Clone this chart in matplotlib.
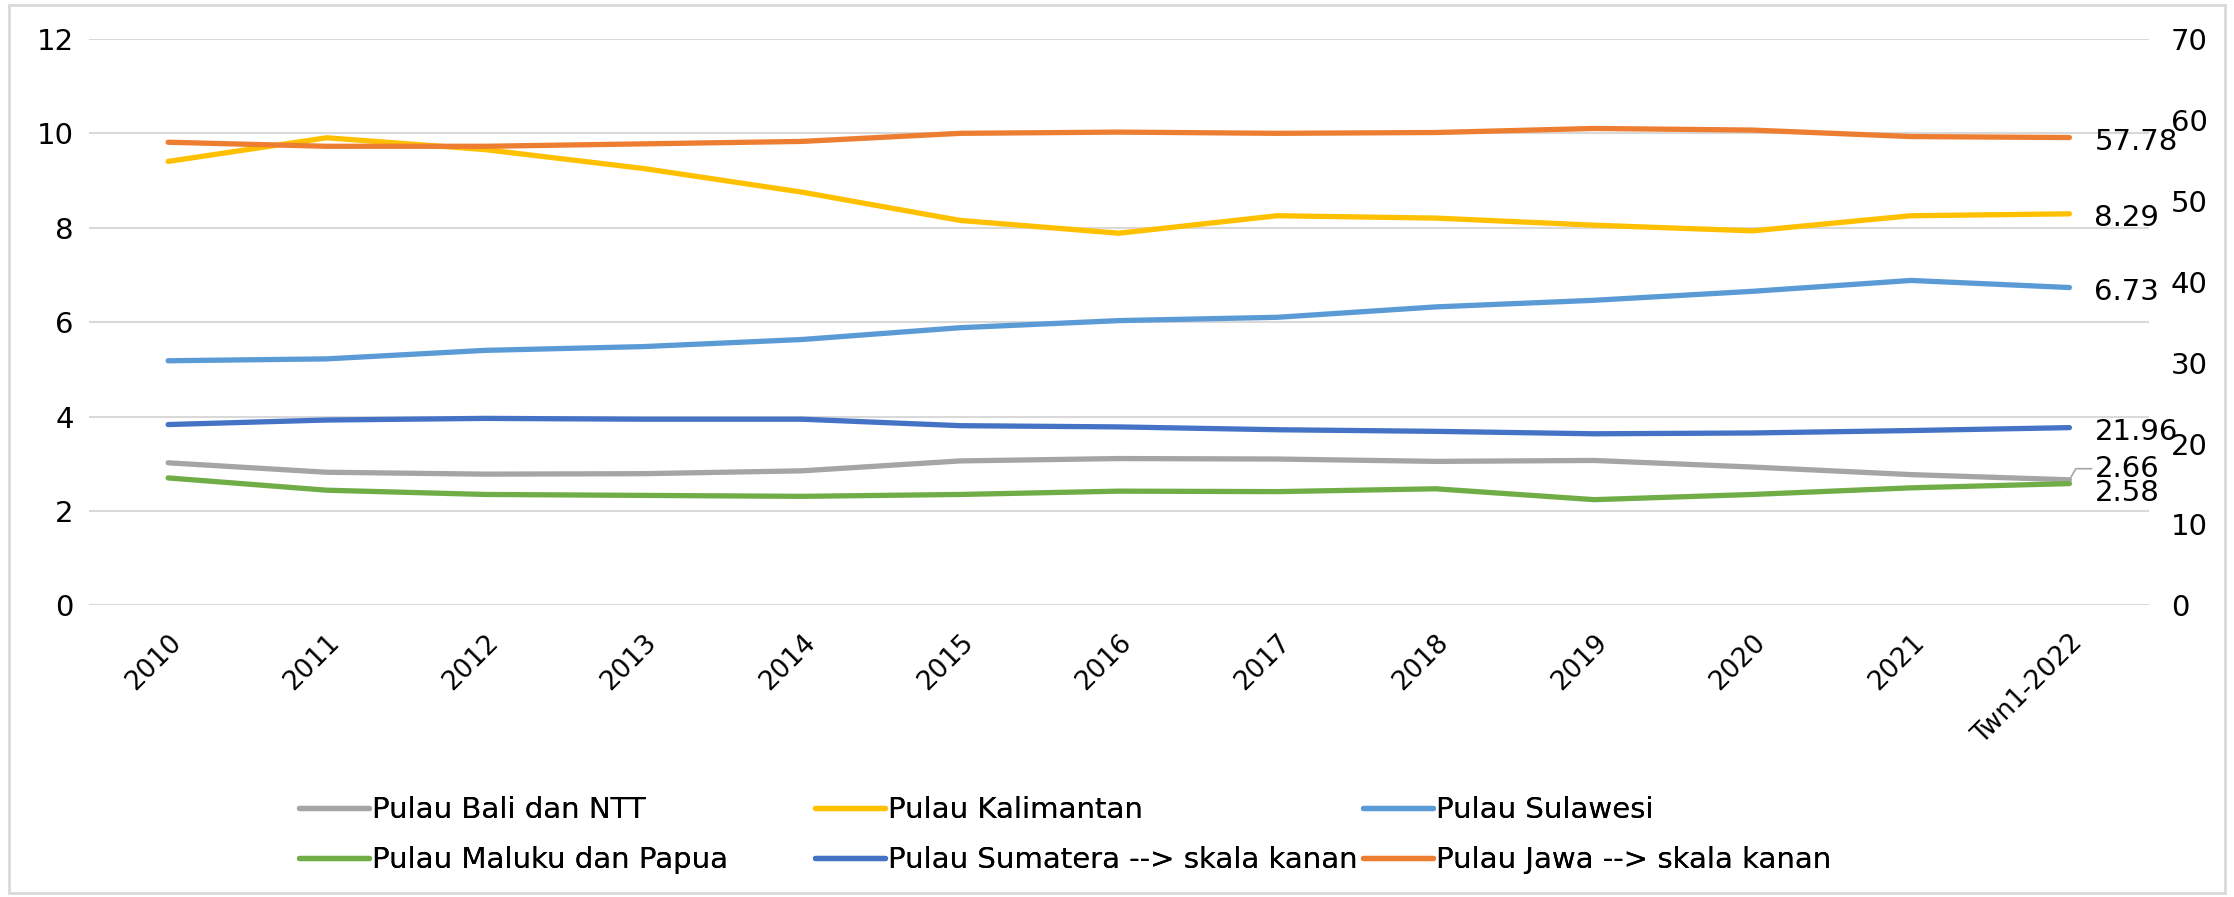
import matplotlib
matplotlib.use("Agg")
import numpy as np
from matplotlib import pyplot as plt
from matplotlib.patches import Rectangle

categories = ['2010', '2011', '2012', '2013', '2014', '2015', '2016', '2017',
              '2018', '2019', '2020', '2021', 'Twn1-2022']

# left axis series
bali_ntt = [3.02, 2.82, 2.78, 2.79, 2.85, 3.06, 3.11, 3.10, 3.05, 3.07, 2.93, 2.77, 2.66]
kalimantan = [9.40, 9.90, 9.65, 9.25, 8.75, 8.15, 7.88, 8.25, 8.20, 8.05, 7.93, 8.25, 8.29]
sulawesi = [5.18, 5.22, 5.40, 5.48, 5.63, 5.88, 6.03, 6.10, 6.32, 6.46, 6.65, 6.88, 6.73]
maluku_papua = [2.70, 2.44, 2.35, 2.33, 2.31, 2.35, 2.42, 2.41, 2.47, 2.24, 2.35, 2.49, 2.58]

# right axis series
sumatera = [22.34, 22.90, 23.10, 23.00, 23.00, 22.20, 22.05, 21.70, 21.50, 21.20, 21.30, 21.60, 21.96]
jawa = [57.20, 56.70, 56.70, 57.00, 57.30, 58.30, 58.45, 58.30, 58.40, 58.90, 58.70, 57.90, 57.78]

left_ticks = [0, 2, 4, 6, 8, 10, 12]
right_ticks = [0, 10, 20, 30, 40, 50, 60, 70]

plt.rcParams['font.family'] = ['DejaVu Sans']

fig = plt.figure(figsize=(22.34, 8.97), dpi=100)
ax = fig.add_axes([0.0398, 0.325, 0.922, 0.632])
ax2 = ax.twinx()

x = np.arange(len(categories))
lw = 3.8

l_bali, = ax.plot(x, bali_ntt, color='#A5A5A5', lw=lw, solid_capstyle='round', label='Pulau Bali dan NTT')
l_kal, = ax.plot(x, kalimantan, color='#FFC000', lw=lw, solid_capstyle='round', label='Pulau Kalimantan')
l_sul, = ax.plot(x, sulawesi, color='#5B9BD5', lw=lw, solid_capstyle='round', label='Pulau Sulawesi')
l_mal, = ax.plot(x, maluku_papua, color='#70AD47', lw=lw, solid_capstyle='round', label='Pulau Maluku dan Papua')
l_sum, = ax2.plot(x, sumatera, color='#4472C4', lw=lw, solid_capstyle='round', label='Pulau Sumatera --> skala kanan')
l_jaw, = ax2.plot(x, jawa, color='#ED7D31', lw=lw, solid_capstyle='round', label='Pulau Jawa --> skala kanan')

ax.set_xlim(-0.5, len(categories) - 0.5)
ax.set_ylim(0, 12)
ax2.set_ylim(0, 70)
ax.set_yticks(left_ticks)
ax2.set_yticks(right_ticks)
ax.set_xticks(x)
ax.set_xticklabels(categories, rotation=45, ha='right', rotation_mode='anchor', fontsize=19)
ax.tick_params(axis='x', length=0, pad=17)
ax.tick_params(axis='y', length=0, labelsize=21, pad=11)
ax2.tick_params(axis='y', length=0, labelsize=21, pad=16)
ax.grid(axis='y', color='#D9D9D9', lw=1.5)
ax.set_axisbelow(True)
for a in (ax, ax2):
    for s in a.spines.values():
        s.set_visible(False)

# data labels at the last point
last = x[-1]
lab_kw = dict(textcoords='offset points', va='center', ha='left', fontsize=21)
ax2.annotate(f'{jawa[-1]:.2f}', (last, jawa[-1]), xytext=(18, -3), **lab_kw)
ax2.annotate(f'{sumatera[-1]:.2f}', (last, sumatera[-1]), xytext=(18, -3), **lab_kw)
ax.annotate(f'{kalimantan[-1]:.2f}', (last, kalimantan[-1]), xytext=(18, -3), **lab_kw)
ax.annotate(f'{sulawesi[-1]:.2f}', (last, sulawesi[-1]), xytext=(18, -3), **lab_kw)
ax.annotate(f'{bali_ntt[-1]:.2f}', (last, bali_ntt[-1]), xytext=(18, 8), **lab_kw,
            arrowprops=dict(arrowstyle='-', color='#A5A5A5', lw=1.2, shrinkA=0, shrinkB=0,
                            connectionstyle='angle,angleA=0,angleB=60,rad=0'))
ax.annotate(f'{maluku_papua[-1]:.2f}', (last, maluku_papua[-1]), xytext=(18, -7), **lab_kw)

# legend: three columns placed like the Excel legend
columns = [(l_bali, l_mal), (l_kal, l_sum), (l_sul, l_jaw)]
col_x = [0.134, 0.365, 0.610]
for hs, cx in zip(columns, col_x):
    leg = fig.legend(handles=list(hs), labels=[h.get_label() for h in hs],
                     loc='center left', bbox_to_anchor=(cx, 0.069), frameon=False,
                     fontsize=21, borderpad=0, borderaxespad=0,
                     handlelength=2.4, handletextpad=0.1, labelspacing=0.75)
    fig.add_artist(leg)

fig.patches.append(Rectangle((0.004, 0.004), 0.992, 0.99, transform=fig.transFigure,
                             fill=False, edgecolor='#D9D9D9', lw=2))

fig.savefig('out.png', dpi=100)
